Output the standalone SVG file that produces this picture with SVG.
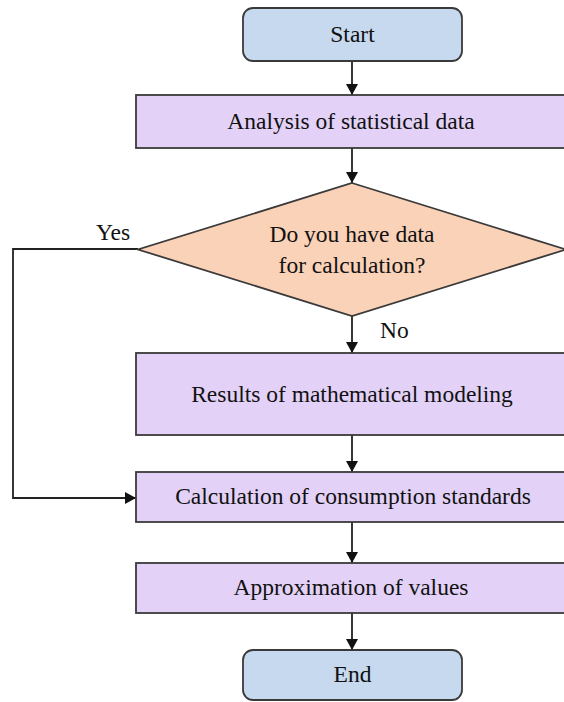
<svg xmlns="http://www.w3.org/2000/svg" width="564" height="702" viewBox="0 0 564 702">
<style>
text{font-family:'Liberation Serif','Times New Roman',serif;font-size:23.5px;fill:#111;text-anchor:middle}
.term{fill:#c6d9ee;stroke:#3a3a3a;stroke-width:1.8}
.proc{fill:#e3d1f7;stroke:#3a3a3a;stroke-width:1.8}
.dec{fill:#fad2b8;stroke:#3a3a3a;stroke-width:1.8}
.conn{fill:none;stroke:#222;stroke-width:1.8}
.lbl{text-anchor:start}
</style>
<defs>
<marker id="ah" markerUnits="userSpaceOnUse" markerWidth="12" markerHeight="12" refX="11" refY="6" orient="auto">
<path d="M0,0 L11,6 L0,12 z" fill="#111"/>
</marker>
</defs>
<rect width="564" height="702" fill="#fff"/>
<g id="connectors">
<line class="conn" x1="352" y1="61" x2="352" y2="95" marker-end="url(#ah)"/>
<line class="conn" x1="352" y1="148" x2="352" y2="183" marker-end="url(#ah)"/>
<line class="conn" x1="352" y1="316" x2="352" y2="353" marker-end="url(#ah)"/>
<line class="conn" x1="352" y1="435" x2="352" y2="472" marker-end="url(#ah)"/>
<line class="conn" x1="352" y1="522" x2="352" y2="563" marker-end="url(#ah)"/>
<line class="conn" x1="352" y1="613" x2="352" y2="650" marker-end="url(#ah)"/>
<polyline class="conn" points="138,249 13,249 13,498 136,498" marker-end="url(#ah)"/>
<text class="lbl" x="96" y="240">Yes</text>
<text class="lbl" x="380" y="338">No</text>
</g>
<g id="start">
<rect class="term" x="243" y="8" width="219" height="53" rx="10"/>
<text x="352.5" y="42">Start</text>
</g>
<g id="analysis">
<rect class="proc" x="136" y="95" width="432" height="53"/>
<text x="351" y="129">Analysis of statistical data</text>
</g>
<g id="decision">
<polygon class="dec" points="352,183 566,249.5 352,316 138,249.5"/>
<text x="352" y="242">Do you have data</text>
<text x="352" y="273">for calculation?</text>
</g>
<g id="results">
<rect class="proc" x="136" y="353" width="432" height="82"/>
<text x="352" y="402">Results of mathematical modeling</text>
</g>
<g id="calculation">
<rect class="proc" x="136" y="472" width="432" height="50"/>
<text x="353" y="504">Calculation of consumption standards</text>
</g>
<g id="approximation">
<rect class="proc" x="136" y="563" width="432" height="50"/>
<text x="351" y="595">Approximation of values</text>
</g>
<g id="end">
<rect class="term" x="243" y="650" width="219" height="50" rx="10"/>
<text x="352.5" y="682">End</text>
</g>
</svg>
